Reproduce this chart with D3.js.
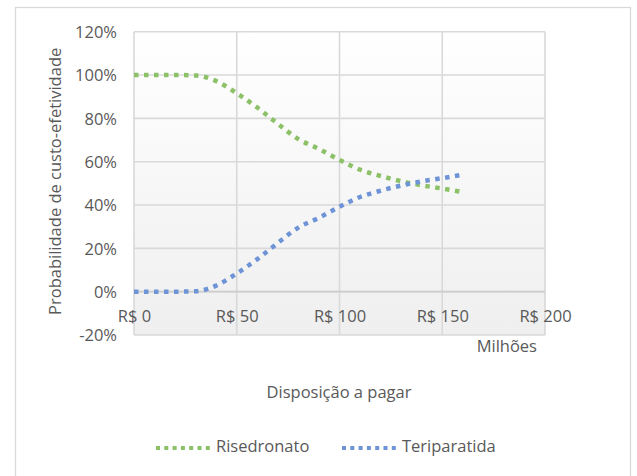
<!DOCTYPE html>
<html>
<head>
<meta charset="utf-8">
<script src="https://cdn.jsdelivr.net/npm/d3@7"></script>
<style>
  html, body { margin: 0; padding: 0; background: #fff; }
  svg { display: block; font-family: "Open Sans", "Noto Sans", sans-serif; }
</style>
</head>
<body>
<svg id="chart" width="637" height="476"></svg>
<script>
// Willingness to pay (R$ millions)
const wtp = [0, 10, 20, 30, 40, 50, 60, 70, 80, 90, 100, 110, 120, 130, 140, 150, 160];
// Probability of being cost-effective
const risedronato  = [1.000, 1.000, 1.000, 0.998, 0.972, 0.916, 0.850, 0.775, 0.704, 0.659, 0.608, 0.563, 0.534, 0.510, 0.491, 0.476, 0.460];
const teriparatida = [0.000, 0.000, 0.000, 0.002, 0.028, 0.084, 0.150, 0.225, 0.296, 0.341, 0.392, 0.437, 0.466, 0.490, 0.509, 0.524, 0.540];

const xTicks = [0, 50, 100, 150, 200];
const yTicks = [-0.2, 0, 0.2, 0.4, 0.6, 0.8, 1.0, 1.2];
const seriesNames = ["Risedronato", "Teriparatida"];
const seriesColors = ["#8cc168", "#6e93d6"];

const svg = d3.select("#chart");
const plot = { left: 134, right: 545, top: 31.7, bottom: 335 };

const x = d3.scaleLinear().domain([0, 200]).range([plot.left, plot.right]);
const y = d3.scaleLinear().domain([-0.2, 1.2]).range([plot.bottom, plot.top]);

// Outer chart frame
svg.append("rect")
  .attr("x", 15.5).attr("y", 7.5).attr("width", 615).attr("height", 480)
  .attr("fill", "#fff").attr("stroke", "#d9d9d9").attr("stroke-width", 1.3);

// Plot-area background gradient
const defs = svg.append("defs");
const grad = defs.append("linearGradient").attr("id", "plotBg")
  .attr("x1", 0).attr("y1", 0).attr("x2", 0).attr("y2", 1);
grad.append("stop").attr("offset", "0%").attr("stop-color", "#ffffff");
grad.append("stop").attr("offset", "100%").attr("stop-color", "#efefef");

svg.append("rect")
  .attr("x", plot.left).attr("y", plot.top)
  .attr("width", plot.right - plot.left).attr("height", plot.bottom - plot.top)
  .attr("fill", "url(#plotBg)");

// Gridlines
const grid = svg.append("g").attr("stroke", "#d9d9d9").attr("stroke-width", 1.6);
grid.selectAll("line.h").data(yTicks).join("line").attr("class", "h")
  .attr("x1", plot.left).attr("x2", plot.right)
  .attr("y1", d => y(d)).attr("y2", d => y(d));
grid.selectAll("line.v").data(xTicks).join("line").attr("class", "v")
  .attr("y1", plot.top).attr("y2", plot.bottom)
  .attr("x1", d => x(d)).attr("x2", d => x(d));

// Horizontal axis line at 0%
svg.append("line")
  .attr("x1", plot.left).attr("x2", plot.right)
  .attr("y1", y(0)).attr("y2", y(0))
  .attr("stroke", "#cfcfcf").attr("stroke-width", 1.6);

const textColor = "#595959";
const fontSize = 16.5;
const fontFamily = "'Open Sans', 'Noto Sans', sans-serif";

// Y axis
const pct = d => (d < 0 ? "-" : "") + Math.round(Math.abs(d) * 100) + "%";
const yAxis = d3.axisLeft(y).tickValues(yTicks).tickSize(0).tickPadding(0).tickFormat(pct);
const gy = svg.append("g").attr("transform", `translate(117,0)`).call(yAxis);
gy.select(".domain").remove();
gy.selectAll("text").attr("fill", textColor).attr("font-size", fontSize)
  .attr("font-family", fontFamily).attr("dy", "0.35em").attr("x", 0);

// X axis (labels sit below the 0% line)
const fmtR = d => "R$ " + d;
const xAxis = d3.axisBottom(x).tickValues(xTicks).tickSize(0).tickPadding(0).tickFormat(fmtR);
const gx = svg.append("g").attr("transform", `translate(0,${y(0) + 26})`).call(xAxis);
gx.select(".domain").remove();
gx.selectAll("text").attr("fill", textColor).attr("font-size", fontSize)
  .attr("font-family", fontFamily).attr("dy", "0").attr("y", 0)
  .attr("dominant-baseline", "middle");

// Axis unit and titles
svg.append("text").text("Milhões")
  .attr("x", 537).attr("y", 348).attr("text-anchor", "end")
  .attr("dominant-baseline", "middle")
  .attr("fill", textColor).attr("font-size", fontSize);

svg.append("text").text("Disposição a pagar")
  .attr("x", 339).attr("y", 394).attr("text-anchor", "middle")
  .attr("dominant-baseline", "middle")
  .attr("fill", textColor).attr("font-size", fontSize);

svg.append("text").text("Probabilidade de custo-efetividade")
  .attr("transform", `translate(57,${(plot.top + plot.bottom) / 2 - 2}) rotate(-90)`)
  .attr("text-anchor", "middle").attr("dominant-baseline", "middle")
  .attr("fill", textColor).attr("font-size", fontSize);

// Series lines
const series = [risedronato, teriparatida];
const line = d3.line()
  .x((d, i) => x(wtp[i]))
  .y(d => y(d))
  .curve(d3.curveMonotoneX);

svg.append("g").selectAll("path").data(series).join("path")
  .attr("d", d => line(d))
  .attr("fill", "none")
  .attr("stroke", (d, i) => seriesColors[i])
  .attr("stroke-width", 4.5)
  .attr("stroke-dasharray", "4.5 5.5");

// Legend
const legendY = 448;
const legendItems = [
  { x0: 156, x1: 210, tx: 216 },
  { x0: 342, x1: 397, tx: 402 }
];
const lg = svg.append("g");
legendItems.forEach((it, i) => {
  lg.append("line")
    .attr("x1", it.x0).attr("x2", it.x1)
    .attr("y1", legendY).attr("y2", legendY)
    .attr("stroke", seriesColors[i]).attr("stroke-width", 4)
    .attr("stroke-dasharray", "4 4.3");
  lg.append("text").text(seriesNames[i])
    .attr("x", it.tx).attr("y", legendY).attr("dominant-baseline", "middle")
    .attr("fill", textColor).attr("font-size", fontSize);
});
</script>
</body>
</html>
